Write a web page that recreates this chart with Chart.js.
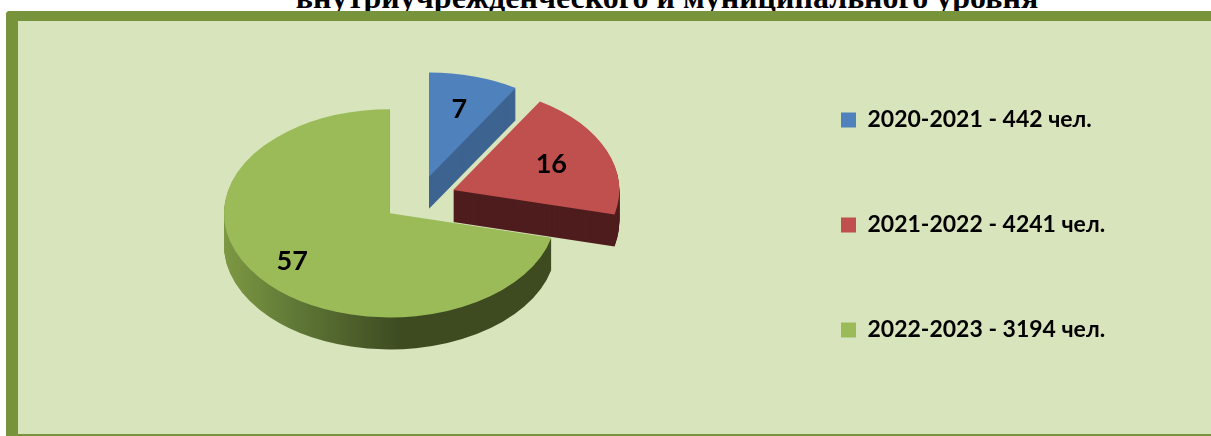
<!DOCTYPE html>
<html>
<head>
<meta charset="utf-8">
<script src="https://cdn.jsdelivr.net/npm/chart.js@4"></script>
<style>
  html, body { margin: 0; padding: 0; width: 1211px; height: 436px; overflow: hidden; background: #fff; }
  #title {
    position: absolute; left: 0; top: -19px; width: 1211px;
    text-align: center; white-space: nowrap; color: #000;
    font: bold 32px/32px "Liberation Serif", "Times New Roman", serif;
  }
  #title span { position: absolute; left: 667px; transform: translateX(-50%); }
  #frame {
    position: absolute; left: 6px; top: 11px; width: 1205px; height: 425px;
    box-sizing: border-box; background: #d8e4bc;
    border-left: 12px solid #77933c; border-top: 10px solid #77933c; border-bottom: 2px solid #77933c;
    border-right: 0; border-top-left-radius: 4px;
  }
  #wrap { position: absolute; left: 18px; top: 21px; width: 1150px; height: 413px; }
</style>
</head>
<body>
<div id="title"><span>внутриучрежденческого и муниципального уровня</span></div>
<div id="frame"></div>
<div id="wrap"><canvas id="pie" width="1150" height="413"></canvas></div>
<script>
const years = ['2020-2021', '2021-2022', '2022-2023'];
const people = [442, 4241, 3194];
const shares = [7, 16, 57];
const topColors = ['#4f81bd', '#c0504d', '#9bbb59'];
const sideColors = ['#3d6390', '#4f1d1e', null]; // null -> gradient
const labels = years.map((y, i) => `${y} - ${people[i]} чел.`);

const legendFont = { family: 'Lato', size: 23, weight: 'bold' };
const canvasW = 1150;

// place the legend column so its boxes start at x = 823 in the canvas
const m = document.createElement('canvas').getContext('2d');
m.font = `bold ${legendFont.size}px Lato`;
const textW = Math.max(...labels.map(t => m.measureText(t).width));
const padRight = Math.max(0, canvasW - 823 - 10 - (15 + legendFont.size / 2 + textW));

// draws the pie as a tilted, exploded 3D disc
const pie3d = {
    id: 'pie3d',
    beforeDatasetsDraw(chart, args, o) {
        const ctx = chart.ctx;
        const arcs = chart.getDatasetMeta(0).data;

        const place = (arc, dy) => {
            const mid = (arc.startAngle + arc.endAngle) / 2;
            ctx.translate(o.cx - arc.x, o.cy + dy);
            ctx.scale(1, o.tilt);
            ctx.translate(Math.cos(mid) * o.explode, -arc.y + Math.sin(mid) * o.explode);
        };

        const sideFill = (arc, i) => {
            if (sideColors[i]) return sideColors[i];
            const mid = (arc.startAngle + arc.endAngle) / 2;
            const shift = o.cx - arc.x + Math.cos(mid) * o.explode;
            const g = ctx.createLinearGradient(222 - 18 - shift, 0, 400 - 18 - shift, 0);
            g.addColorStop(0, '#7e9943');
            g.addColorStop(0.45, '#5d7535');
            g.addColorStop(1, '#3e4b21');
            return g;
        };

        for (let d = o.depth; d > 0; d--) {
            arcs.forEach((arc, i) => {
                ctx.save();
                place(arc, d);
                const ghost = Object.create(arc);
                ghost.options = Object.assign({}, arc.options, { backgroundColor: sideFill(arc, i), borderWidth: 0 });
                arc.draw.call(ghost, ctx);
                ctx.restore();
            });
        }

        arcs.forEach(arc => {
            ctx.save();
            place(arc, 0);
            arc.draw(ctx);
            ctx.restore();
        });

        // value labels
        ctx.save();
        ctx.font = 'bold 27px Lato';
        ctx.fillStyle = '#000';
        ctx.textAlign = 'center';
        ctx.textBaseline = 'middle';
        arcs.forEach((arc, i) => {
            const mid = (arc.startAngle + arc.endAngle) / 2;
            const r = arc.outerRadius * o.labelAt[i] + o.explode;
            const x = o.cx + Math.cos(mid) * r;
            const y = o.cy + Math.sin(mid) * r * o.tilt;
            ctx.fillText(String(shares[i]), x, y);
        });
        ctx.restore();
        return false;
    }
};

new Chart(document.getElementById('pie'), {
    type: 'pie',
    data: {
        labels: labels,
        datasets: [{
            data: shares,
            backgroundColor: topColors,
            borderWidth: 0,
            radius: 166,
        }],
    },
    options: {
        responsive: false,
        animation: false,
        layout: { padding: { right: padRight, bottom: 5 } },
        plugins: {
            legend: {
                position: 'right',
                labels: { boxWidth: 15, boxHeight: 15, padding: 82, color: '#000', font: legendFont },
            },
            tooltip: { enabled: false },
            pie3d: { cx: 401, cy: 178, tilt: 0.627, explode: 37, depth: 32, labelAt: [0.67, 0.64, 0.75] },
        },
    },
    plugins: [pie3d],
});
</script>
</body>
</html>
